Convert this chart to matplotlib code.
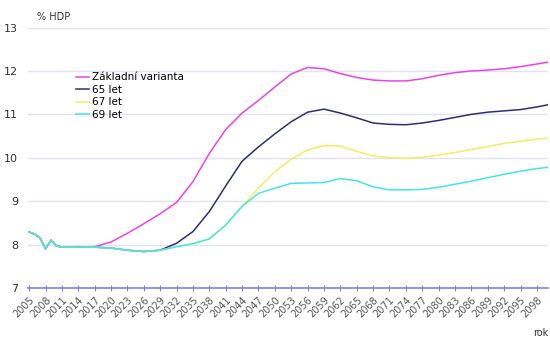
import matplotlib
matplotlib.use("Agg")
import matplotlib.pyplot as plt

# years and values (% HDP)
years = [2005, 2006, 2007, 2008, 2009, 2010, 2011, 2014, 2017, 2020, 2023,
         2026, 2029, 2032, 2035, 2038, 2041, 2044, 2047, 2050, 2053, 2056,
         2059, 2062, 2065, 2068, 2071, 2074, 2077, 2080, 2083, 2086, 2089,
         2092, 2095, 2098, 2100]

early = [8.29, 8.24, 8.15, 7.9, 8.1, 7.97, 7.94, 7.95, 7.94]

zakladni = early[:8] + [7.95, 8.06, 8.26, 8.48, 8.71, 8.97, 9.45, 10.1,
                        10.65, 11.03, 11.32, 11.63, 11.93, 12.08, 12.05,
                        11.94, 11.85, 11.79, 11.77, 11.77, 11.82, 11.9,
                        11.96, 12.0, 12.02, 12.05, 12.1, 12.16, 12.2]

let65 = early + [7.92, 7.87, 7.84, 7.87, 8.03, 8.3, 8.76, 9.35, 9.92, 10.25,
                 10.55, 10.83, 11.05, 11.12, 11.03, 10.92, 10.8, 10.77,
                 10.76, 10.8, 10.86, 10.93, 11.0, 11.05, 11.08, 11.11,
                 11.17, 11.22]

let67 = early + [7.92, 7.87, 7.84, 7.87, 7.95, 8.02, 8.13, 8.45, 8.88, 9.3,
                 9.68, 9.97, 10.18, 10.28, 10.27, 10.15, 10.04, 10.0, 9.99,
                 10.01, 10.06, 10.12, 10.19, 10.26, 10.33, 10.38, 10.43,
                 10.45]

let69 = early + [7.92, 7.87, 7.84, 7.87, 7.95, 8.02, 8.13, 8.45, 8.88, 9.18,
                 9.3, 9.41, 9.42, 9.43, 9.52, 9.47, 9.33, 9.26, 9.26, 9.27,
                 9.32, 9.39, 9.46, 9.54, 9.62, 9.69, 9.75, 9.78]

labels = ["Základní varianta", "65 let", "67 let", "69 let"]
colors = ["#ea44e4", "#2e2e72", "#eef060", "#44e6e6"]
xticks = list(range(2005, 2099, 3))

fig = plt.figure(figsize=(5.5, 3.4), dpi=100)
ax = fig.add_axes([0.051, 0.153, 0.945, 0.766])

for series, label, color in zip([zakladni, let65, let67, let69], labels, colors):
    ax.plot(years, series, color=color, lw=1.1, label=label)

ax.set_xlim(2004.8, 2100)
ax.set_ylim(7, 13)
ax.set_yticks(range(7, 14))
ax.set_xticks(xticks)
ax.set_xticklabels([str(y) for y in xticks], rotation=45, ha="right",
                   rotation_mode="anchor", fontsize=7, color="#555555")
ax.tick_params(axis="y", length=0, pad=7, labelsize=8, labelcolor="#333333")
ax.tick_params(axis="x", direction="inout", length=4, color="#8080f0",
               pad=3)

for y in range(8, 14):
    ax.axhline(y, color="#e2e2f6", lw=1.0, zorder=0)

for side in ["left", "right", "top"]:
    ax.spines[side].set_visible(False)
ax.spines["bottom"].set_color("#8080f0")
ax.spines["bottom"].set_linewidth(1.2)

fig.text(0.068, 0.94, "% HDP", fontsize=7, color="#333333")
fig.text(0.97, 0.006, "rok", fontsize=7, color="#333333", va="bottom")

ax.legend(loc="upper left", bbox_to_anchor=(0.13, 0.8),
          bbox_transform=fig.transFigure, frameon=False, fontsize=7.5,
          handlelength=1.3, handletextpad=0.3, labelspacing=0.25,
          borderaxespad=0)

fig.savefig("out.png", dpi=100)
